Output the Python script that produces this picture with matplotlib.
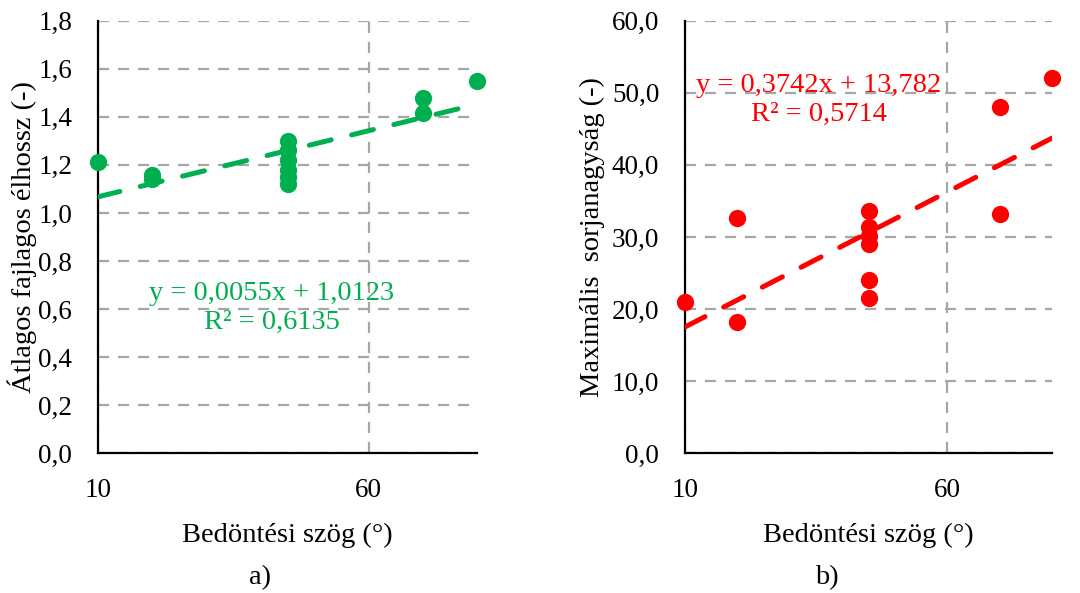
import matplotlib
matplotlib.use("Agg")
import matplotlib.pyplot as plt
from matplotlib.ticker import FuncFormatter
import numpy as np

# bedöntési szög (°) mérési pontok
angle_a = [10, 20, 20, 45, 45, 45, 45, 45, 45, 70, 70, 80]
edge_len = [1.21, 1.16, 1.14, 1.30, 1.26, 1.22, 1.18, 1.15, 1.12, 1.48, 1.415, 1.55]

angle_b = [10, 20, 20, 45, 45, 45, 45, 45, 45, 70, 70, 80]
burr_size = [21.0, 32.6, 18.2, 33.6, 31.4, 30.2, 29.0, 24.0, 21.5, 48.0, 33.2, 52.1]

# trendvonalak (Excel lineáris)
fit_a = (0.0055, 1.0123)
fit_b = (0.3742, 13.782)
eq_a = ["y = 0,0055x + 1,0123", "R² = 0,6135"]
eq_b = ["y = 0,3742x + 13,782", "R² = 0,5714"]

x_ticks = [10, 60]
x_range = (10, 80)

GREEN = "#00B050"
RED = "#FF0000"
FS = 19.5
FS_LAB = 20.5

plt.rcParams["font.family"] = ["Liberation Serif", "DejaVu Serif"]

W, H = 1080, 593
fig = plt.figure(figsize=(W / 100, H / 100), dpi=100)


def comma(decimals):
    return FuncFormatter(lambda v, p: f"{v:.{decimals}f}".replace(".", ","))


def panel(rect, xs, ys, fit, eq, color, ylim, ystep, ylabel, eq_pos, ylab_off):
    l, t, r, b = rect
    ax = fig.add_axes([l / W, 1 - b / H, (r - l) / W, (b - t) / H])
    ax.set_xlim(*x_range)
    ax.set_ylim(*ylim)
    ax.set_xticks(x_ticks)
    ax.set_yticks(np.arange(ylim[0], ylim[1] + ystep / 2, ystep))
    ax.yaxis.set_major_formatter(comma(1))
    ax.grid(True, color="#A6A6A6", linestyle=(0, (5, 4)), linewidth=1.6)
    ax.set_axisbelow(True)
    for s in ["top", "right"]:
        ax.spines[s].set_visible(False)
    for s in ["left", "bottom"]:
        ax.spines[s].set_linewidth(1.6)
        ax.spines[s].set_zorder(3)
    ax.tick_params(length=0, labelsize=FS, pad=18)
    ax.tick_params(axis="y", pad=18.5)

    ax.scatter(xs, ys, s=155, color=color, zorder=4, clip_on=False, linewidths=0)
    tx = np.array(x_range, dtype=float)
    ax.plot(tx, fit[0] * tx + fit[1], color=color, linewidth=3.6,
            linestyle=(0, (4.5, 4.2)), dash_capstyle="round", zorder=5)

    ax.text(eq_pos[0], eq_pos[1], eq[0] + "\n" + eq[1], color=color, fontsize=FS_LAB,
            ha="center", va="center", transform=fig.transFigure, linespacing=1.2)

    ax.set_xlabel("Bedöntési szög (°)", fontsize=FS_LAB, labelpad=14)
    ax.set_ylabel(ylabel, fontsize=FS_LAB)
    ax.yaxis.set_label_coords(-ylab_off / (r - l), 0.5)
    return ax


panel((98, 20.7, 477, 453.3), angle_a, edge_len, fit_a, eq_a, GREEN,
      (0, 1.8), 0.2, "Átlagos fajlagos élhossz (-)",
      (272 / W, 1 - 308 / H), 61)
panel((685, 20.7, 1052, 453.3), angle_b, burr_size, fit_b, eq_b, RED,
      (0, 60), 10, "Maximális  sorjanagyság (-)",
      (819 / W, 1 - 100 / H), 80)

fig.text(260 / W, 1 - 578 / H, "a)", fontsize=FS_LAB, ha="center", va="center")
fig.text(827 / W, 1 - 578 / H, "b)", fontsize=FS_LAB, ha="center", va="center")

fig.savefig("out.png", dpi=100)
